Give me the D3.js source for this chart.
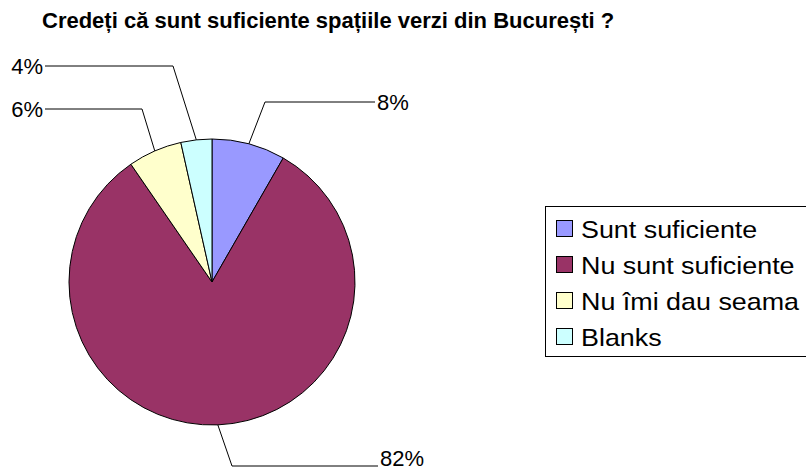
<!DOCTYPE html>
<meta charset="utf-8">
<head>
<style>
  body { margin: 0; background: #fff; }
  text { font-family: "Liberation Sans", Arial, sans-serif; }
</style>
</head>
<body>
<div id="my_dataviz"></div>
<script src="https://d3js.org/d3.v7.min.js"></script>
<script>

// data
var categories = ["Sunt suficiente", "Nu sunt suficiente", "Nu îmi dau seama", "Blanks"];
var values = [8.3, 82.1, 6.1, 3.5];
var labels = ["8%", "82%", "6%", "4%"];
var colors = ["#9999ff", "#993366", "#ffffcc", "#ccffff"];

var title = "Credeți că sunt suficiente spațiile verzi din București ?";

// where the leader lines bend and where each label sits
var labelPos = [
  {elbow: [265, 102], end: [375, 102], anchor: "start"},
  {elbow: [232, 466], end: [378, 466], anchor: "start", baseline: true},
  {elbow: [142, 109], end: [45, 109], anchor: "end"},
  {elbow: [173, 66],  end: [45, 66],  anchor: "end"}
];

var width = 806, height = 469;
var cx = 212, cy = 282, radius = 143;

var svg = d3.select("#my_dataviz")
  .append("svg")
    .attr("width", width)
    .attr("height", height);

svg.append("text")
  .attr("x", 42)
  .attr("y", 28)
  .attr("font-size", "22px")
  .attr("font-weight", "bold")
  .text(title);

var data = categories.map(function(c, i) {
  return {name: c, value: values[i], label: labels[i], color: colors[i], pos: labelPos[i]};
});

var pie = d3.pie()
  .sort(null)
  .value(function(d) { return d.value; });

var arc = d3.arc()
  .innerRadius(0)
  .outerRadius(radius);

var arcs = pie(data);

var g = svg.append("g")
  .attr("transform", "translate(" + cx + "," + cy + ")");

g.selectAll("path")
  .data(arcs)
  .enter()
  .append("path")
    .attr("d", arc)
    .attr("fill", function(d) { return d.data.color; })
    .attr("stroke", "#000")
    .attr("stroke-width", 1);

// leader lines start on the rim at each slice's middle angle
arcs.forEach(function(d) {
  var a = (d.startAngle + d.endAngle) / 2;
  var sx = cx + radius * Math.sin(a),
      sy = cy - radius * Math.cos(a);
  var p = d.data.pos;
  svg.append("polyline")
    .attr("points", [[sx, sy], p.elbow, p.end].map(function(q) { return q.join(","); }).join(" "))
    .attr("fill", "none")
    .attr("stroke", "#000")
    .attr("stroke-width", 1);
  svg.append("text")
    .attr("x", p.anchor == "start" ? p.end[0] + 2 : p.end[0] - 2)
    .attr("y", p.baseline ? p.end[1] : p.end[1] + 8)
    .attr("text-anchor", p.anchor)
    .attr("font-size", "22px")
    .text(d.data.label);
});

// legend
var legend = svg.append("g");
legend.append("rect")
  .attr("x", 545.5)
  .attr("y", 206.5)
  .attr("width", 300)
  .attr("height", 150)
  .attr("fill", "#fff")
  .attr("stroke", "#000");

var row = d3.scaleBand()
  .domain(categories)
  .range([211, 355]);

var items = legend.selectAll(".item")
  .data(data)
  .enter()
  .append("g")
    .attr("class", "item")
    .attr("transform", function(d) { return "translate(0," + (row(d.name) + row.bandwidth() / 2) + ")"; });

items.append("rect")
  .attr("x", 556.5)
  .attr("y", -8.5)
  .attr("width", 16)
  .attr("height", 16)
  .attr("fill", function(d) { return d.color; })
  .attr("stroke", "#000");

// legend text is a bit wide in the original, stretch it a little
items.append("text")
  .attr("transform", "translate(581,8.5) scale(1.12,1)")
  .attr("font-size", "24px")
  .text(function(d) { return d.name; });

</script>
</body>
